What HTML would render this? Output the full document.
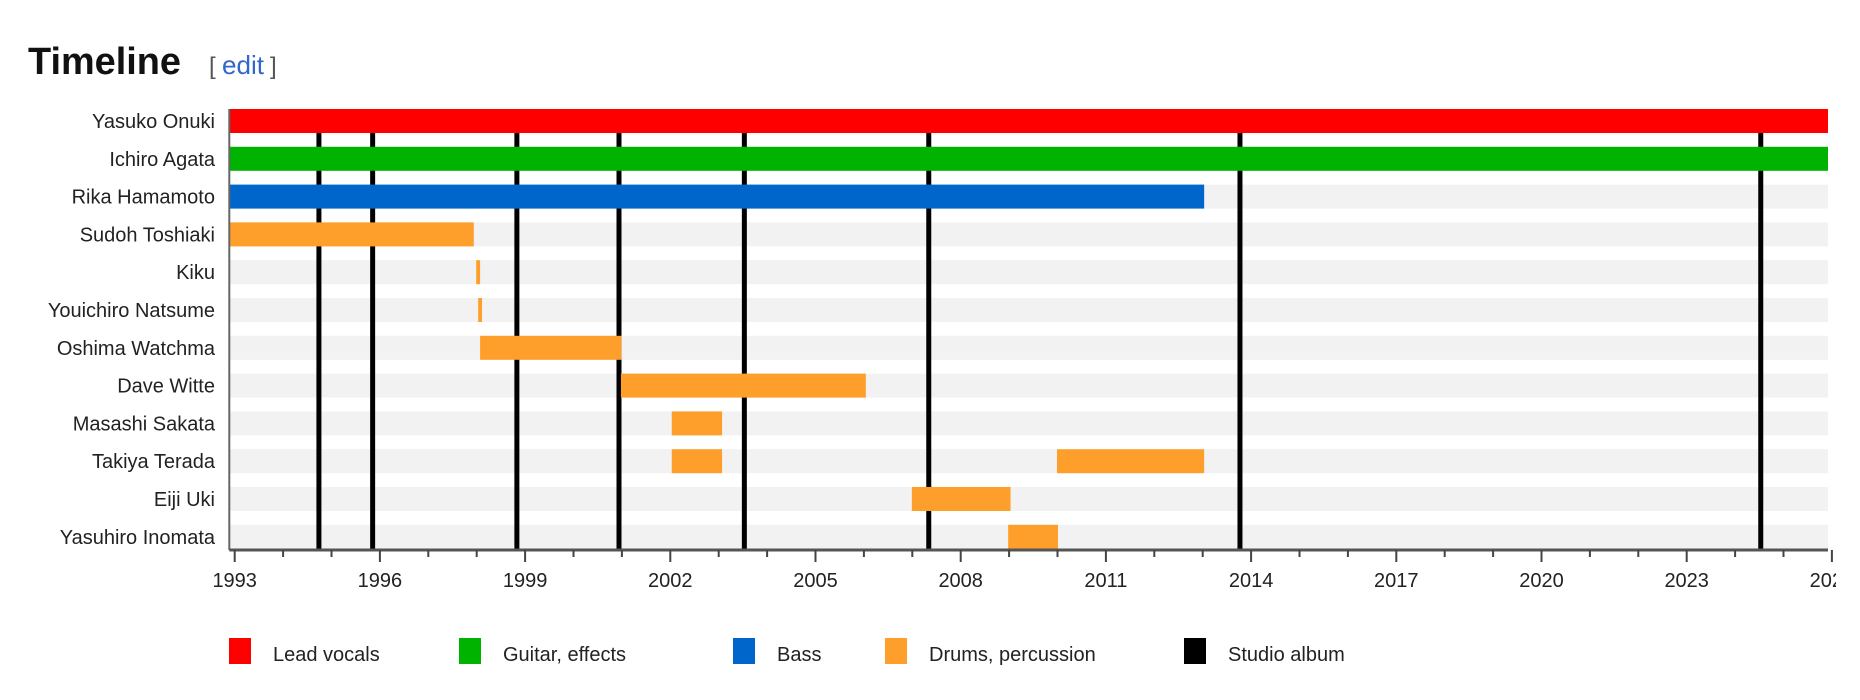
<!DOCTYPE html>
<html><head><meta charset="utf-8"><style>
html,body{margin:0;padding:0;background:#fff;width:1860px;height:700px;overflow:hidden}
svg{display:block}
text{font-family:"Liberation Sans",sans-serif}
</style></head><body>
<svg id="chart" width="1860" height="700" xmlns="http://www.w3.org/2000/svg">
<defs><clipPath id="clipR"><rect x="0" y="0" width="1836" height="700"/></clipPath></defs>
<text x="28" y="74" font-size="38" font-weight="bold" fill="#111" textLength="153" lengthAdjust="spacingAndGlyphs">Timeline</text>
<text x="209" y="74" font-size="24" fill="#555">[</text>
<text x="222" y="74" font-size="26" fill="#3366cc" textLength="42" lengthAdjust="spacingAndGlyphs">edit</text>
<text x="270" y="74" font-size="24" fill="#555">]</text>
<g id="plot" clip-path="url(#clipR)"></g>
</svg>
<script>
const members = ["Yasuko Onuki","Ichiro Agata","Rika Hamamoto","Sudoh Toshiaki","Kiku","Youichiro Natsume","Oshima Watchma","Dave Witte","Masashi Sakata","Takiya Terada","Eiji Uki","Yasuhiro Inomata"];
const barRows = [0,1,2,3,4,5,6,7,8,9,9,10,11];
const barStarts = [1992.9,1992.9,1992.9,1992.9,1997.99,1998.03,1998.07,2000.98,2002.03,2002.03,2009.99,2006.99,2008.98];
const barEnds = [2026,2026,2013.03,1997.94,1998.07,1998.11,2000.99,2006.04,2003.07,2003.07,2013.03,2009.03,2010.01];
const barRoles = ["vocals","guitar","bass","drums","drums","drums","drums","drums","drums","drums","drums","drums","drums"];
const albums = [1994.74,1995.85,1998.83,2000.94,2003.53,2007.34,2013.77,2024.53];
const tickYears = [1993,1996,1999,2002,2005,2008,2011,2014,2017,2020,2023,2026];
const legendLabels = ["Lead vocals","Guitar, effects","Bass","Drums, percussion","Studio album"];
const roleColors = {vocals:"#ff0000",guitar:"#00b300",bass:"#0066cc",drums:"#ff9f2b"};
const legendColors = ["#ff0000","#00b300","#0066cc","#ff9f2b","#000000"];

const NS="http://www.w3.org/2000/svg";
const g=document.getElementById('plot');
const X0=234.7, PX=48.4, LEFT=229.3, RIGHT=1828, TOP=109, PITCH=37.8, BH=24, AXY=550;
const x=y=>X0+(y-1993)*PX;
const xc=y=>Math.max(LEFT,Math.min(RIGHT,x(y)));
const rowY=i=>TOP+i*PITCH;
function mk(tag,attrs){const e=document.createElementNS(NS,tag);for(const k in attrs)e.setAttribute(k,attrs[k]);g.appendChild(e);return e;}

members.forEach((m,i)=>{
  const b=mk('rect',{x:LEFT,y:rowY(i),width:RIGHT-LEFT,height:BH,fill:'#f2f2f2'});
  
  
  const t=mk('text',{x:215,y:rowY(i)+19,'font-size':20,'text-anchor':'end',fill:'#222'});
  t.textContent=m;
  
  
});
albums.forEach(a=>{
  const l=mk('rect',{x:x(a)-2.5,y:TOP,width:5,height:AXY-TOP,fill:'#000'});
  
  
});
barStarts.forEach((s,i)=>{
  const x1=xc(s), x2=xc(barEnds[i]);
  const r=mk('rect',{x:x1,y:rowY(barRows[i]),width:Math.max(3,x2-x1),height:BH,fill:roleColors[barRoles[i]]});
  
  
});
const la=mk('line',{x1:LEFT,y1:TOP,x2:LEFT,y2:AXY,stroke:'#666','stroke-width':2});


const ax=mk('line',{x1:LEFT,y1:AXY,x2:RIGHT,y2:AXY,stroke:'#555','stroke-width':3});


for(let yr=1993;yr<=2026;yr++){
  const major=(yr-1993)%3===0;
  const t=mk('line',{x1:x(yr),y1:AXY,x2:x(yr),y2:AXY+(major?12:7),stroke:'#444','stroke-width':2});
  
  
}
tickYears.forEach(yr=>{
  const t=mk('text',{x:x(yr),y:587,'font-size':20,'text-anchor':'middle',fill:'#222'});
  t.textContent=yr;
  
  
});
const legX=[229,459,733,885,1184];
legendLabels.forEach((lab,i)=>{
  const s=mk('rect',{x:legX[i],y:638,width:22,height:26,fill:legendColors[i]});
  
  
  const t=mk('text',{x:legX[i]+44,y:661,'font-size':20,fill:'#222'});
  t.textContent=lab;
  
  
});
</script>
</body></html>
